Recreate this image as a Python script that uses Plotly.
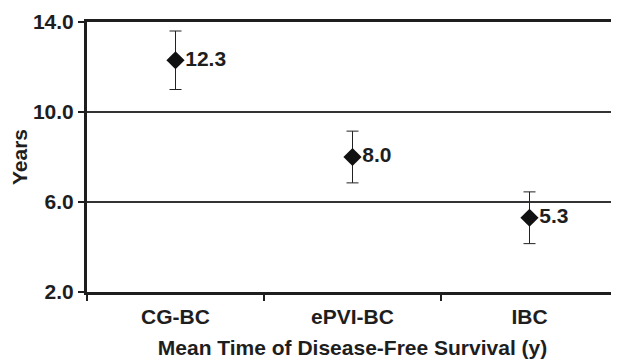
import plotly.graph_objects as go

categories = ["CG-BC", "ePVI-BC", "IBC"]
means = [12.3, 8.0, 5.3]
err_plus = [1.3, 1.15, 1.15]
err_minus = [1.3, 1.15, 1.15]
labels = ["12.3", "8.0", "5.3"]
y_ticks = [2.0, 6.0, 10.0, 14.0]
y_ticktext = ["2.0", "6.0", "10.0", "14.0"]

FONT = "Liberation Sans, Arial, sans-serif"
INK = "#1e1e1e"
FS = 21

fig = go.Figure()
fig.add_trace(go.Scatter(
    x=categories, y=means,
    mode="markers+text",
    marker=dict(symbol="diamond", size=14, color="#111111"),
    error_y=dict(type="data", symmetric=False, array=err_plus, arrayminus=err_minus,
                 color="#222222", thickness=1, width=6),
    text=labels, textposition="middle right",
    textfont=dict(family=FONT, size=FS, color=INK, weight="bold"),
    cliponaxis=False,
    showlegend=False,
))

# light right border of the plot area
fig.add_shape(type="line", xref="paper", yref="paper", x0=1, x1=1, y0=0, y1=1,
              line=dict(color="#c8c8c8", width=1))

fig.update_layout(
    width=611, height=352,
    margin=dict(l=79, r=1, t=14, b=68),
    paper_bgcolor="white", plot_bgcolor="white",
    font=dict(family=FONT, color=INK),
    xaxis=dict(
        type="category", range=[-0.5, 2.5],
        tickson="boundaries", ticks="outside", ticklen=6, tickwidth=2, tickcolor=INK,
        showline=True, linewidth=3, linecolor=INK, mirror=True,
        showgrid=False, ticklabelstandoff=4,
        tickfont=dict(family=FONT, size=FS, weight="bold", color=INK),
        title=dict(text="Mean Time of Disease-Free Survival (y)",
                   font=dict(family=FONT, size=FS, weight="bold", color=INK),
                   standoff=14),
    ),
    yaxis=dict(
        range=[2, 14], tickvals=y_ticks, ticktext=y_ticktext,
        ticks="outside", ticklen=6, tickwidth=2, tickcolor=INK,
        showline=True, linewidth=3, linecolor=INK,
        showgrid=True, gridcolor="#333333", gridwidth=1.5,
        zeroline=False,
        tickfont=dict(family=FONT, size=FS, weight="bold", color=INK),
        title=dict(text="Years", font=dict(family=FONT, size=FS, weight="bold", color=INK),
                   standoff=8),
    ),
)

fig.write_html("out.html")
